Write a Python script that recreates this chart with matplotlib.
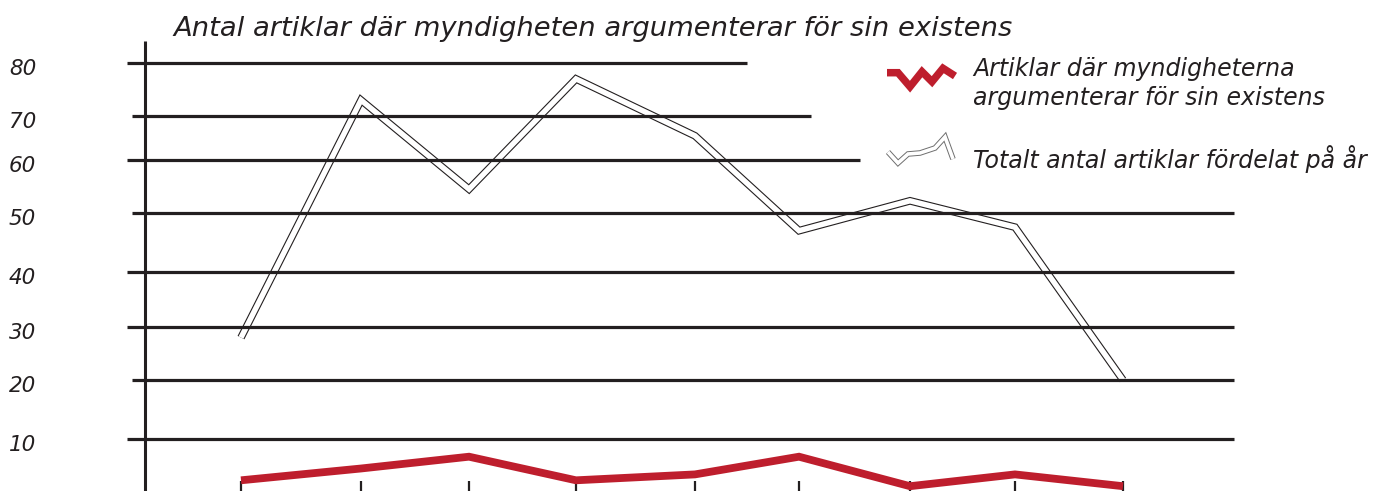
import numpy as np
import matplotlib
matplotlib.use("Agg")
import matplotlib.pyplot as plt
import matplotlib.transforms as mtransforms

# ---------------- data ----------------
years_idx = list(range(9))                    # nine (unlabelled) years
total_articles = [28, 73, 54.5, 77, 65.5, 47, 52.3, 47.6, 20]
existence_articles = [3, 5, 7, 3, 4, 7, 2, 4, 2]
ytick_values = [80, 70, 60, 50, 40, 30, 20, 10]
ytick_labels = ["80", "70", "60", "50", "40", "30", "20", "10"]
title = "Antal artiklar där myndigheten argumenterar för sin existens"
legend_red = ["Artiklar där myndigheterna", "argumenterar för sin existens"]
legend_total = "Totalt antal artiklar fördelat på år"

# ---------------- figure ----------------
W, H = 1383, 491
fig = plt.figure(figsize=(W / 100, H / 100), dpi=100)
ax = fig.add_axes([0, 0, 1, 1])
ax.set_axis_off()

def piecewise(a, b):
    a = np.asarray(a, float); b = np.asarray(b, float)
    def f(v):
        v = np.asarray(v, float)
        out = np.interp(v, a, b)
        out = np.where(v < a[0], b[0] + (v - a[0]) * (b[1] - b[0]) / (a[1] - a[0]), out)
        out = np.where(v > a[-1], b[-1] + (v - a[-1]) * (b[-1] - b[-2]) / (a[-1] - a[-2]), out)
        return out
    return f

# hand-drawn, irregular axes: scale anchors (value -> pixel)
x_anchor_px = [241, 361, 469, 576, 695, 799, 910, 1015, 1123]
y_anchor_vals = [0, 10, 20, 30, 40, 50, 60, 70, 80]
y_anchor_px = [498, 439, 380, 327, 272, 213, 160, 116, 63]
y_up = [H - p for p in y_anchor_px]

xf, xi = piecewise(years_idx, x_anchor_px), piecewise(x_anchor_px, years_idx)
yf, yi = piecewise(y_anchor_vals, y_up), piecewise(y_up, y_anchor_vals)
ax.set_xscale("function", functions=(xf, xi))
ax.set_yscale("function", functions=(yf, yi))
ax.set_xlim(float(xi(0)), float(xi(W)))
ax.set_ylim(float(yi(0)), float(yi(H)))

ink = "#231F20"
red = "#BE1E2D"

# gridlines (different lengths, as drawn)
grid_start_px = [127, 132, 127, 132, 127, 127, 132, 127]
grid_end_px = [747, 811, 860, 1234, 1234, 1234, 1234, 1234]
ytr = ax.get_yaxis_transform()
for v, s, e in zip(ytick_values, grid_start_px, grid_end_px):
    ax.plot([s / W, e / W], [v, v], color=ink, lw=2.3, transform=ytr,
            solid_capstyle="butt", zorder=3)

# y axis line
ax.plot([145 / W, 145 / W], [0, 1 - 41 / H], color=ink, lw=2.2,
        transform=ax.transAxes, solid_capstyle="butt", zorder=3)

# x ticks at bottom
xtr = ax.get_xaxis_transform()
for i in years_idx:
    ax.plot([i, i], [0, 10 / H], color=ink, lw=1.6, transform=xtr,
            solid_capstyle="butt", zorder=3)

# y labels
lab_tr = mtransforms.offset_copy(ytr, fig=fig, x=0, y=-12, units="dots")
font = dict(family="DejaVu Sans", style="italic", color=ink)
for v, s in zip(ytick_values, ytick_labels):
    ax.text(9 / W, v, s, transform=lab_tr, ha="left",
            va="baseline", fontsize=15.5, **font)

# total articles: double line
ax.plot(years_idx, total_articles, color=ink, lw=5.5, solid_joinstyle="miter",
        solid_capstyle="butt", zorder=1)
ax.plot(years_idx, total_articles, color="white", lw=3.9, solid_joinstyle="miter",
        solid_capstyle="butt", zorder=2)

# existence articles: thick red line
ax.plot(years_idx, existence_articles, color=red, lw=5.6, solid_joinstyle="miter",
        solid_capstyle="butt", zorder=4)

# title
t_title = fig.text(173 / W, 1 - 36 / H, title, ha="left", va="baseline",
                   fontsize=20, **font)

# legend texts
leg1 = fig.text(973 / W, 1 - 76 / H, legend_red[0], ha="left", va="baseline", fontsize=15, **font)
leg2 = fig.text(973 / W, 1 - 105 / H, legend_red[1], ha="left", va="baseline", fontsize=15, **font)
leg3 = fig.text(973 / W, 1 - 168 / H, legend_total, ha="left", va="baseline", fontsize=15, **font)

# legend icons
red_icon_px = [(887, 72.7), (898, 72.7), (910, 86.7), (922, 71.7), (932, 81.7), (943, 68.3), (955, 76)]
ax.plot([p[0] / W for p in red_icon_px], [1 - p[1] / H for p in red_icon_px],
        color=red, lw=5.4, transform=ax.transAxes, solid_joinstyle="miter",
        solid_capstyle="butt", clip_on=False, zorder=5)
tot_icon_px = [(888, 152), (898, 163), (908, 154), (920, 153), (935, 148), (945, 137), (953, 159)]
for c, lw in (("#6e6e6e", 4.0), ("white", 2.6)):
    ax.plot([p[0] / W for p in tot_icon_px], [1 - p[1] / H for p in tot_icon_px],
            color=c, lw=lw, transform=ax.transAxes, solid_joinstyle="miter",
            solid_capstyle="butt", clip_on=False, zorder=5)

# fit text sizes to measured widths
fig.canvas.draw()
r = fig.canvas.get_renderer()
def fit(texts, ref, target):
    w = ref.get_window_extent(r).width
    s = ref.get_fontsize() * target / w
    for t in texts:
        t.set_fontsize(s)
fit([t_title], t_title, 1013 - 173)
fit([leg1, leg2, leg3], leg3, 1367 - 973)

fig.savefig("out.png", dpi=100, facecolor="white")
